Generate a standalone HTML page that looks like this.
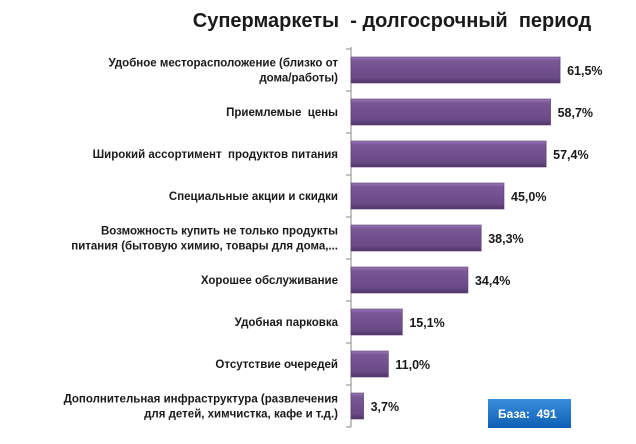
<!DOCTYPE html>
<html><head><meta charset="utf-8"><style>
body{margin:0;background:#fff;font-family:"Liberation Sans","DejaVu Sans",sans-serif}
svg text{font-family:"Liberation Sans","DejaVu Sans",sans-serif;white-space:pre}
</style></head><body>
<svg id="c" width="636" height="439" xmlns="http://www.w3.org/2000/svg">
<defs>
<linearGradient id="g" x1="0" y1="0" x2="0" y2="1">
<stop offset="0" stop-color="#9a7ab8"/><stop offset="0.15" stop-color="#7a5796"/><stop offset="0.8" stop-color="#6a4a86"/><stop offset="1" stop-color="#4f3566"/>
</linearGradient>
<linearGradient id="b" x1="0" y1="0" x2="0" y2="1"><stop offset="0" stop-color="#3a8fdc"/><stop offset="1" stop-color="#0e5fb4"/></linearGradient>
</defs>
<text x="392" y="27" text-anchor="middle" font-size="20" font-weight="bold" fill="#1a1a1a">Супермаркеты  - долгосрочный  период</text>
<g id="plot"></g>
<rect x="488" y="399" width="83" height="29" fill="url(#b)"/>
<text x="498" y="418" font-size="12" font-weight="bold" fill="#fff">База:  491</text>
</svg>
<script>
const categories=[["Удобное месторасположение (близко от","дома/работы)"],["Приемлемые  цены"],["Широкий ассортимент  продуктов питания"],["Специальные акции и скидки"],["Возможность купить не только продукты","питания (бытовую химию, товары для дома,..."],["Хорошее обслуживание"],["Удобная парковка"],["Отсутствие очередей"],["Дополнительная инфраструктура (развлечения","для детей, химчистка, кафе и т.д.)"]];
const values=[61.5,58.7,57.4,45.0,38.3,34.4,15.1,11.0,3.7];
const valueLabels=["61,5%","58,7%","57,4%","45,0%","38,3%","34,4%","15,1%","11,0%","3,7%"];
const NS="http://www.w3.org/2000/svg",plotG=document.getElementById('plot');
const x0=351,sx=3.4,plotTop=49,step=42,bh=26;
const X=v=>x0+v*sx,Y=i=>plotTop+i*step;
function mk(t,a){const e=document.createElementNS(NS,t);for(const k in a)e.setAttribute(k,a[k]);plotG.appendChild(e);return e;}
const ax=mk('line',{x1:x0,y1:plotTop-2,x2:x0,y2:Y(values.length),stroke:'#888'});


for(let i=0;i<=values.length;i++){const t=mk('line',{x1:x0-5,y1:Y(i),x2:x0,y2:Y(i),stroke:'#888'});

}
values.forEach((v,i)=>{
const cy=Y(i)+step/2;
const r=mk('rect',{x:x0,y:cy-bh/2,width:X(v)-x0,height:bh,fill:'url(#g)',stroke:'#5a3d73','stroke-width':0.6});


const vl=mk('text',{x:X(v)+7,y:cy+5,'font-size':12.5,'font-weight':'bold',fill:'#1a1a1a'});vl.textContent=valueLabels[i];


const lines=categories[i];
lines.forEach((s,j)=>{const tt=mk('text',{x:338,y:cy+4+(j-(lines.length-1)/2)*15,'text-anchor':'end','font-size':11.5,'font-weight':'bold',fill:'#1a1a1a'});tt.textContent=s;

});
});
</script>
</body></html>
